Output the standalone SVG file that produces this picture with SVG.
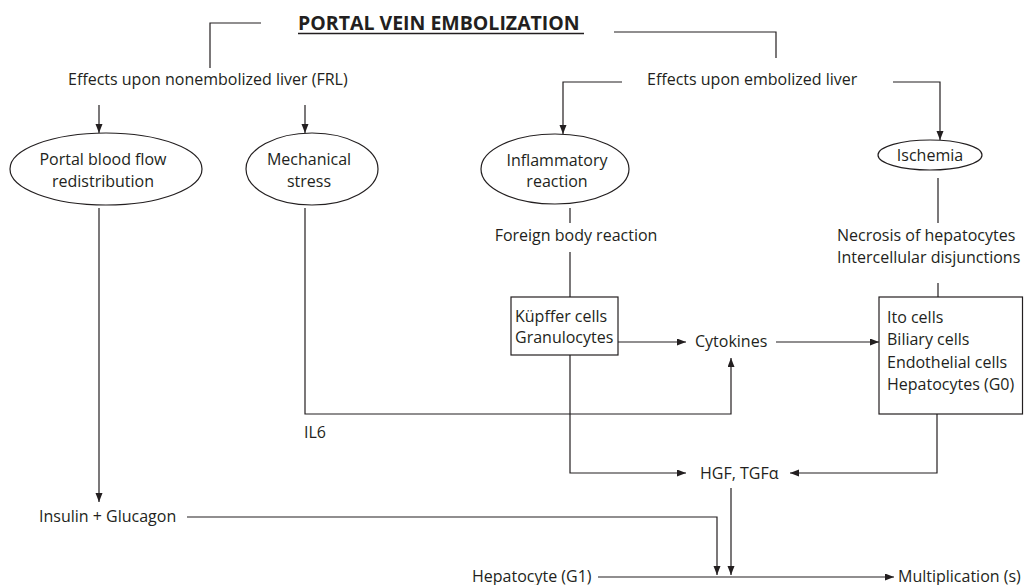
<svg xmlns="http://www.w3.org/2000/svg" width="1024" height="585" viewBox="0 0 1024 585">
<defs>
<marker id="ah" markerWidth="10" markerHeight="8" refX="9" refY="3.5" orient="auto" markerUnits="userSpaceOnUse">
<path d="M0,0 L9,3.5 L0,7 z" fill="#231f20"/>
</marker>
<style>
text{font-family:"Open Sans","Noto Sans","Liberation Sans",sans-serif;font-size:16px;fill:#231f20}
.t{font-weight:bold;font-size:19.5px}
.m{text-anchor:middle}
.n{fill:#fff;stroke:#231f20;stroke-width:1.2}
.c path{fill:none;stroke:#231f20;stroke-width:1.2}
.a{marker-end:url(#ah)}
</style>
</defs>
<rect width="1024" height="585" fill="#fff"/>
<g id="title">
<text class="t" x="298" y="30">PORTAL VEIN EMBOLIZATION</text>
<line x1="298" y1="33.5" x2="584" y2="33.5" stroke="#231f20" stroke-width="1.3"/>
</g>
<g class="c" id="connectors">
<path d="M261,23 H210 V68"/>
<path d="M614,32 H776 V58"/>
<path class="a" d="M99,105 V133"/>
<path class="a" d="M305,105 V133"/>
<path class="a" d="M622,82 H563 V134"/>
<path class="a" d="M893,82 H940 V140"/>
<path class="a" d="M99,208 V502"/>
<path class="a" d="M305,208 V414 H731 V358"/>
<path d="M570,208 V223"/>
<path d="M570,252 V297"/>
<path d="M938,178 V223"/>
<path d="M938,283 V297"/>
<path class="a" d="M618,342 H686"/>
<path class="a" d="M776,342 H879"/>
<path class="a" d="M570,355 V473 H686"/>
<path class="a" d="M937,414 V473 H790"/>
<path class="a" d="M731,488 V575"/>
<path class="a" d="M187,517 H717 V575"/>
<path class="a" d="M598,577 H894"/>
</g>
<g id="frl"><text x="68" y="85">Effects upon nonembolized liver (FRL)</text></g>
<g id="emb"><text x="647" y="85">Effects upon embolized liver</text></g>
<g id="portal">
<ellipse class="n" cx="106" cy="169" rx="96" ry="36"/>
<text class="m" x="103" y="165">Portal blood flow</text>
<text class="m" x="103" y="187">redistribution</text>
</g>
<g id="mech">
<ellipse class="n" cx="312" cy="169" rx="66" ry="36"/>
<text class="m" x="309" y="165">Mechanical</text>
<text class="m" x="309" y="187">stress</text>
</g>
<g id="inflam">
<ellipse class="n" cx="555" cy="169" rx="74" ry="35"/>
<text class="m" x="557" y="166">Inflammatory</text>
<text class="m" x="557" y="187">reaction</text>
</g>
<g id="ischemia">
<ellipse class="n" cx="930" cy="155" rx="52" ry="15"/>
<text class="m" x="930" y="161">Ischemia</text>
</g>
<g id="foreign"><text class="m" x="576" y="241">Foreign body reaction</text></g>
<g id="necrosis">
<text x="837" y="241">Necrosis of hepatocytes</text>
<text x="837" y="263">Intercellular disjunctions</text>
</g>
<g id="kupffer">
<rect class="n" x="511" y="297" width="107" height="58"/>
<text x="515" y="322">Küpffer cells</text>
<text x="515" y="343">Granulocytes</text>
</g>
<g id="cells">
<rect class="n" x="879" y="297" width="143.5" height="117"/>
<text x="887" y="323">Ito cells</text>
<text x="887" y="345">Biliary cells</text>
<text x="887" y="368">Endothelial cells</text>
<text x="887" y="390">Hepatocytes (G0)</text>
</g>
<g id="cytokines"><text x="695" y="347">Cytokines</text></g>
<g id="il6"><text x="304" y="438">IL6</text></g>
<g id="hgf"><text x="700" y="479">HGF, TGFα</text></g>
<g id="insulin"><text x="39" y="522">Insulin + Glucagon</text></g>
<g id="g1"><text x="472" y="582">Hepatocyte (G1)</text></g>
<g id="mult"><text x="898" y="582">Multiplication (s)</text></g>
</svg>
